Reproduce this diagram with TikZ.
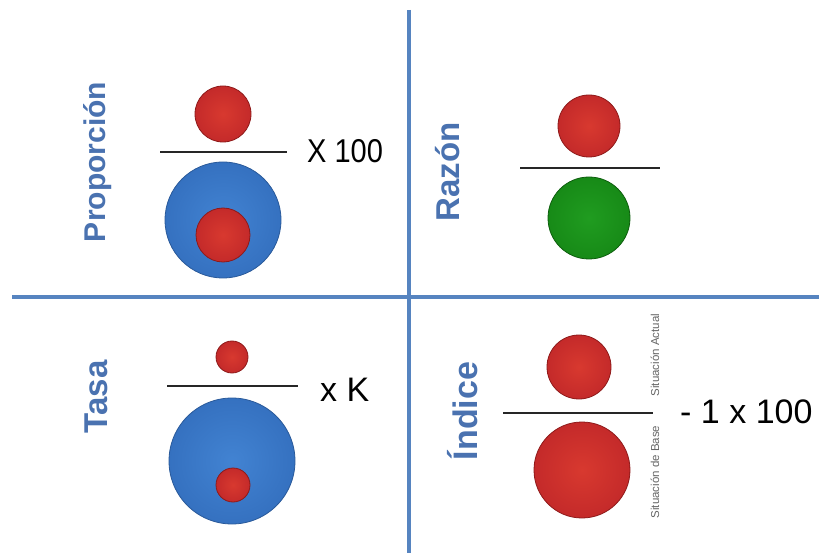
\documentclass[tikz,border=0pt]{standalone}
\usepackage{fontspec}
\setmainfont{Liberation Sans}
\definecolor{sepblue}{HTML}{5684C0}
\definecolor{labblue}{HTML}{4A72B0}
\definecolor{redin}{HTML}{D8392F}
\definecolor{redout}{HTML}{C42A2A}
\definecolor{redrim}{HTML}{8E1A1A}
\definecolor{bluein}{HTML}{4283D2}
\definecolor{blueout}{HTML}{3571C0}
\definecolor{bluerim}{HTML}{2A5A9A}
\definecolor{greenin}{HTML}{209C20}
\definecolor{greenout}{HTML}{178A17}
\definecolor{greenrim}{HTML}{0E5E0E}
\newcommand{\labfont}[1]{\fontsize{#1}{#1}\selectfont\bfseries}
\newcommand{\opfont}[1]{\fontsize{#1}{#1}\selectfont}

\begin{document}
\begin{tikzpicture}[x=1pt,y=-1pt,
  redbtn/.style={circle,inner sep=0pt,draw=redrim,line width=0.8pt,inner color=redin,outer color=redout},
  bluebtn/.style={circle,inner sep=0pt,draw=bluerim,line width=0.8pt,inner color=bluein,outer color=blueout},
  greenbtn/.style={circle,inner sep=0pt,draw=greenrim,line width=0.8pt,inner color=greenin,outer color=greenout},
  quadlabel/.style={rotate=90,text=labblue,inner sep=0pt},
  fracbar/.style={line width=2pt,black!85},
  sidenote/.style={rotate=90,text=black!60,inner sep=0pt,font=\opfont{11.5}}]
\useasboundingbox (0,0) rectangle (819,553);
% ================= separators =================
\coordinate (vTop) at (409,10);
\coordinate (vBot) at (409,553);
\coordinate (hLeft) at (12,297);
\coordinate (hRight) at (819,297);
\draw[sepblue,line width=4pt] (vTop) -- (vBot);
\draw[sepblue,line width=4pt] (hLeft) -- (hRight);
% ---------- Proporcion ----------
\node[quadlabel,font=\labfont{30}] (propLab) at (98,162) {Proporción};
\node[redbtn,minimum size=56pt] (propNum) at (223,114) {};
\coordinate (propL) at (160,152);
\coordinate (propR) at (287,152);
\draw[fracbar] (propL) -- (propR);
\node[bluebtn,minimum size=116pt] (propDen) at (223,220) {};
\node[redbtn,minimum size=54pt] (propIn) at (223,235) {};
\node[anchor=west,inner sep=0pt,xscale=0.88,font=\opfont{33}] (propOp) at (307,151) {X 100};
% ---------- Razon ----------
\node[quadlabel,font=\labfont{33}] (razLab) at (448,172) {Razón};
\node[redbtn,minimum size=62pt] (razNum) at (589,126) {};
\coordinate (razL) at (520,168);
\coordinate (razR) at (660,168);
\draw[fracbar] (razL) -- (razR);
\node[greenbtn,minimum size=82pt] (razDen) at (589,218) {};
% ---------- Tasa ----------
\node[quadlabel,font=\labfont{33}] (tasLab) at (96,397) {Tasa};
\node[redbtn,minimum size=32pt] (tasNum) at (232,357) {};
\coordinate (tasL) at (167,386);
\coordinate (tasR) at (298,386);
\draw[fracbar] (tasL) -- (tasR);
\node[bluebtn,minimum size=126pt] (tasDen) at (232,461) {};
\node[redbtn,minimum size=34pt] (tasIn) at (233,485) {};
\node[anchor=west,inner sep=0pt,font=\opfont{34}] (tasOp) at (320,390) {x K};
% ---------- Indice ----------
\node[quadlabel,font=\labfont{34}] (indLab) at (463,411) {Índice};
\node[redbtn,minimum size=64pt] (indNum) at (579,367) {};
\coordinate (indL) at (503,413);
\coordinate (indR) at (653,413);
\draw[fracbar] (indL) -- (indR);
\node[redbtn,minimum size=96pt] (indDen) at (582,470) {};
\node[sidenote] (indAct) at (655,355) {Situación Actual};
\node[sidenote] (indBase) at (655,472) {Situación de Base};
\node[anchor=west,inner sep=0pt,font=\opfont{34}] (indOp) at (680,412) {- 1 x 100};
\end{tikzpicture}
\end{document}
